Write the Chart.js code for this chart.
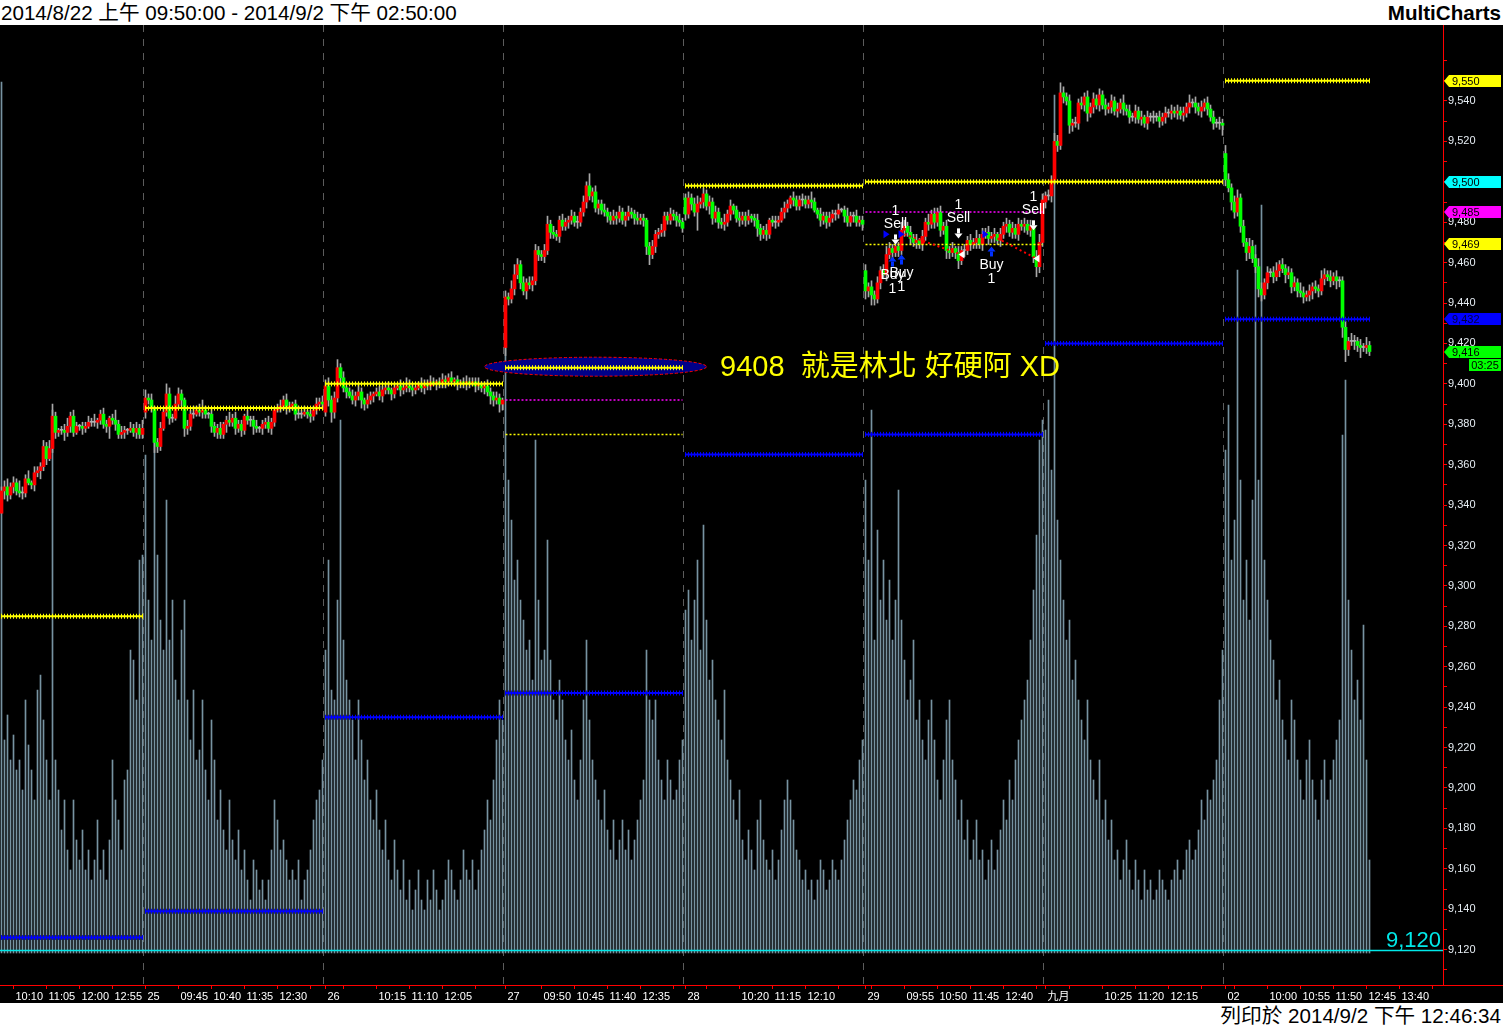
<!DOCTYPE html>
<html>
<head>
<meta charset="utf-8">
<script src="https://cdn.jsdelivr.net/npm/chart.js@4.4.1/dist/chart.umd.min.js"></script>
<style>
  html, body { margin: 0; padding: 0; background: #fff; width: 1503px; height: 1026px; overflow: hidden; }
  .bar { position: absolute; left: 0; width: 1503px; font-family: "Liberation Sans", "Noto Sans CJK TC", sans-serif; font-size: 20.6px; color: #000; }
  #head { top: 0; height: 25px; line-height: 25px; }
  #head .l { position: absolute; left: 1px; }
  #head .r { position: absolute; right: 2px; font-weight: bold; }
  #wrap { position: absolute; left: 0; top: 25px; width: 1503px; height: 978px; background: #000; }
  #foot { top: 1003px; height: 23px; line-height: 25px; }
  #foot .r { position: absolute; right: 2px; }
</style>
</head>
<body>
<div id="head" class="bar"><span class="l">2014/8/22 上午 09:50:00 - 2014/9/2 下午 02:50:00</span><span class="r">MultiCharts</span></div>
<div id="wrap"><canvas id="chart" width="1503" height="978"></canvas></div>
<div id="foot" class="bar"><span class="r">列印於 2014/9/2 下午 12:46:34</span></div>
<script>
// 5-minute bars, 8/22 09:50 .. 9/2 12:50
const slots = 481
const dayStarts = [0, 48, 108, 168, 228, 288, 348, 408]
const dayOpens = [9336, 9386, 9386, 9418, 9492, 9456, 9490, 9514]

const closeD1 = [9347,9349,9345,9349,9351,9347,9346,9346,9353,9351,9350,9356,9357,9359,9369,9363,9368,9384,9376,9377,9377,9376,9379,9384,9376,9379,9379,9378,9379,9381,9381,9381,9382,9385,9380,9379,9383,9382,9380,9375,9376,9377,9377,9378,9376,9378,9375,9378]
const closeD2 = [9393,9392,9388,9371,9369,9378,9386,9395,9383,9383,9390,9395,9392,9378,9379,9385,9385,9387,9386,9387,9385,9385,9379,9376,9378,9375,9380,9382,9381,9383,9378,9380,9377,9384,9382,9382,9379,9378,9378,9380,9381,9378,9381,9387,9388,9389,9392,9388,9389,9390,9385,9385,9385,9386,9385,9384,9387,9390,9391,9390]
const closeD3 = [9399,9392,9386,9393,9408,9403,9398,9396,9394,9392,9394,9396,9392,9390,9392,9394,9395,9396,9394,9397,9398,9397,9395,9398,9399,9397,9398,9399,9398,9397,9398,9400,9398,9400,9399,9401,9400,9401,9400,9402,9401,9403,9401,9402,9400,9401,9400,9401,9400,9401,9399,9400,9398,9399,9396,9394,9392,9393,9390,9392]
const closeD4 = [9443,9442,9447,9454,9459,9450,9446,9450,9449,9451,9466,9464,9463,9466,9479,9475,9474,9473,9481,9478,9480,9481,9483,9480,9480,9485,9490,9498,9493,9495,9487,9489,9486,9485,9483,9481,9483,9482,9485,9481,9483,9485,9484,9482,9481,9482,9481,9468,9464,9468,9474,9475,9476,9483,9481,9484,9483,9481,9480,9477]
const closeD5 = [9484,9492,9489,9485,9489,9490,9494,9488,9490,9482,9485,9480,9479,9480,9484,9488,9486,9482,9481,9483,9481,9483,9482,9481,9477,9474,9476,9474,9481,9480,9480,9481,9485,9487,9489,9492,9491,9488,9491,9491,9489,9491,9490,9486,9484,9481,9483,9480,9482,9484,9484,9486,9486,9483,9480,9483,9483,9480,9481,9479]
const closeD6 = [9446,9448,9444,9442,9450,9456,9454,9464,9467,9465,9468,9466,9476,9478,9475,9472,9470,9471,9469,9473,9480,9479,9484,9480,9485,9476,9478,9466,9465,9467,9465,9461,9466,9466,9471,9469,9470,9472,9469,9474,9475,9472,9473,9474,9471,9474,9478,9479,9475,9477,9474,9479,9478,9479,9476,9478,9463,9458,9470,9491]
const closeD7 = [9493,9493,9501,9520,9518,9544,9542,9540,9528,9529,9529,9539,9538,9542,9534,9537,9541,9538,9543,9538,9536,9537,9540,9535,9536,9539,9536,9535,9532,9532,9535,9531,9532,9529,9532,9532,9532,9532,9530,9532,9534,9534,9535,9534,9535,9533,9534,9537,9539,9539,9537,9535,9537,9539,9536,9532,9529,9529,9529,9528]
const closeD8 = [9501,9497,9490,9485,9492,9478,9470,9465,9468,9462,9458,9447,9444,9450,9455,9455,9453,9456,9459,9457,9454,9455,9448,9450,9446,9445,9443,9444,9446,9448,9447,9446,9452,9454,9453,9451,9453,9451,9451,9428,9417,9421,9421,9421,9419,9418,9418,9419,9416]

// wick lengths above / below the body, in points
const wickUpD1 = [2,3,4,2,3,2,5,3,2,4,1,3,2,2,3,2,4,6,2,1,2,3,4,2,3,2,1,2,2,3,2,4,1,2,3,2,1,2,5,2,3,2,1,3,2,3,2,4]
const wickDnD1 = [0,4,3,2,3,2,2,3,2,1,2,3,2,4,2,3,1,2,3,2,2,4,2,3,2,1,2,3,2,1,2,2,3,2,2,3,6,2,3,2,2,3,2,1,2,3,2,2]
const wickUpD2 = [4,2,3,1,2,3,2,5,3,2,4,3,2,1,3,2,4,2,3,5,2,1,3,2,2,3,1,2,4,2,3,2,2,1,3,2,2,3,1,2,2,3,2,1,2,3,2,3,2,1,2,4,2,3,1,2,2,3,2,3]
const wickDnD2 = [3,2,2,5,3,2,1,2,3,2,1,2,3,4,3,2,2,1,2,3,2,2,3,2,3,2,2,4,2,2,3,2,3,2,2,3,4,2,2,3,2,2,3,2,1,2,2,3,2,2,3,2,2,1,2,3,2,2,1,2]
const wickUpD3 = [3,4,2,3,4,2,3,1,2,3,2,4,2,1,3,2,1,2,3,2,2,3,1,2,1,3,2,4,3,2,1,1,3,2,2,3,2,1,2,3,2,2,3,1,2,1,2,3,2,2,2,3,1,2,3,2,2,3,2,1]
const wickDnD3 = [2,3,5,3,2,3,2,3,1,2,3,2,4,3,2,2,3,1,2,3,2,2,3,2,1,3,2,2,2,3,2,1,2,3,2,2,1,3,2,2,3,2,1,2,3,2,2,3,2,1,3,2,2,3,2,4,3,2,4,3]
const wickUpD4 = [3,2,4,5,3,2,3,2,3,2,3,2,2,3,4,2,3,2,2,3,2,2,3,2,3,2,3,2,6,2,3,2,2,3,2,2,3,2,3,2,2,3,2,2,3,2,2,1,2,3,2,2,3,2,2,3,2,2,3,2]
const wickDnD4 = [4,3,2,3,2,3,2,4,2,3,2,3,2,3,2,3,2,2,3,2,2,3,2,2,3,2,2,3,2,3,2,3,2,2,3,2,2,3,2,2,3,2,2,3,2,2,3,4,5,2,3,2,2,3,2,2,2,3,2,2]
const wickUpD5 = [2,3,2,3,4,2,3,2,3,2,3,2,2,4,2,3,1,2,3,2,2,3,1,2,3,2,2,3,1,2,3,2,2,3,2,1,3,2,2,3,2,2,4,2,1,3,2,2,3,2,2,3,1,2,4,2,2,3,2,2]
const wickDnD5 = [3,2,3,2,9,2,3,2,4,3,2,3,2,3,2,3,2,2,3,2,3,2,2,3,4,3,2,3,2,2,3,2,1,3,2,2,3,2,2,3,2,2,3,1,2,3,2,3,2,2,3,2,1,3,2,2,3,2,2,3]
const wickUpD6 = [3,2,3,2,3,2,3,4,3,2,3,2,4,3,2,3,2,3,1,3,2,4,2,3,2,3,2,3,2,3,1,3,2,3,2,3,2,4,2,3,2,3,2,3,1,3,2,3,2,3,2,3,2,3,2,3,2,3,4,3]
const wickDnD6 = [4,3,5,3,2,3,2,3,2,3,2,3,2,3,2,3,2,3,2,3,2,3,2,3,2,3,2,4,3,2,3,4,2,3,2,3,2,3,2,3,2,3,2,3,2,3,2,3,2,3,2,3,2,3,2,3,3,5,3,2]
const wickUpD7 = [2,3,2,4,3,5,3,2,3,2,3,2,3,2,3,2,3,2,3,2,3,2,3,2,3,2,4,2,3,2,3,2,3,1,3,2,3,2,3,2,3,2,3,2,3,2,3,2,4,2,3,2,3,2,3,2,3,2,3,2]
const wickDnD7 = [3,2,3,2,3,2,3,2,4,3,2,3,2,3,4,2,3,2,3,2,3,2,3,2,3,2,3,2,3,2,3,2,3,2,3,2,3,2,3,2,3,2,3,2,3,2,3,2,3,2,3,2,3,2,3,2,3,2,3,5]
const wickUpD8 = [4,3,2,3,4,2,3,2,4,3,2,4,3,2,3,2,3,4,2,3,2,3,2,3,2,4,3,2,3,2,3,2,4,3,2,3,2,3,2,2,3,2,4,3,2,3,2,4,2]
const wickDnD8 = [3,2,4,3,2,3,2,4,3,2,3,4,3,2,3,2,3,2,3,2,4,2,3,2,3,2,3,2,3,4,2,3,2,3,2,3,2,4,3,5,6,3,2,4,3,5,2,3,2]

// volume, in pixel-height units of the lower pane
const volD1 = [871,213,238,193,218,183,193,163,253,208,183,153,263,278,233,193,153,543,193,163,123,153,103,83,153,113,93,123,83,103,73,93,133,83,103,73,113,193,153,133,103,173,183,303,293,253,393,398]
const volD2 = [498,353,313,543,398,333,303,453,313,353,273,253,323,353,253,213,263,193,203,253,183,153,233,193,133,163,123,103,153,113,93,123,83,103,73,53,93,83,63,73,53,73,103,153,133,103,113,93,73,83,73,93,53,73,83,103,133,153,163,193]
const volD3 = [303,393,263,253,353,533,313,273,253,233,193,253,213,173,193,153,133,163,123,103,133,93,73,113,83,63,93,53,73,43,63,83,53,43,73,53,83,63,43,53,73,93,83,63,53,73,103,83,73,93,63,83,103,123,153,133,173,213,253,233]
const volD4 = [608,473,433,373,393,353,333,303,313,273,513,353,293,303,413,293,253,233,273,253,213,193,223,173,153,193,253,313,233,193,173,153,133,163,123,103,133,93,113,133,103,123,93,113,133,153,173,303,253,233,253,193,173,153,193,173,153,163,193,213]
const volD5 = [343,363,313,353,393,303,428,333,273,293,253,233,213,263,193,173,153,133,163,113,93,123,103,83,133,153,113,93,83,103,73,93,123,153,173,153,133,103,93,73,83,63,73,53,73,93,83,63,73,93,83,73,93,113,133,153,173,163,193,213]
const volD6 = [473,393,543,313,423,353,393,333,373,313,353,463,333,293,253,273,313,233,253,213,193,233,253,213,173,153,193,233,253,193,173,133,153,113,133,93,113,133,93,103,73,93,113,83,103,123,153,133,173,153,193,213,233,253,273,313,363,418,513,533]
const volD7 = [523,553,483,858,433,393,353,313,333,273,293,253,233,213,253,193,173,153,193,133,153,113,133,93,103,73,93,113,83,63,93,73,53,83,63,73,53,63,83,73,63,53,73,83,93,73,83,103,113,93,103,123,153,133,163,153,173,193,253,303]
const volD8 = [503,548,393,433,683,473,353,393,333,453,708,473,748,393,353,313,293,253,273,233,213,193,253,233,193,173,153,193,213,173,153,133,173,193,153,173,193,213,233,518,573,353,303,253,273,233,328,193,93]

// x-axis tick labels [bar index, text]
const xTickLabels = [[4,"10:10"],[15,"11:05"],[26,"12:00"],[37,"12:55"],[48,"25"],[59,"09:45"],[70,"10:40"],[81,"11:35"],[92,"12:30"],[108,"26"],[125,"10:15"],[136,"11:10"],[147,"12:05"],[168,"27"],[180,"09:50"],[191,"10:45"],[202,"11:40"],[213,"12:35"],[228,"28"],[246,"10:20"],[257,"11:15"],[268,"12:10"],[288,"29"],[301,"09:55"],[312,"10:50"],[323,"11:45"],[334,"12:40"],[348,"九月"],[367,"10:25"],[378,"11:20"],[389,"12:15"],[408,"02"],[422,"10:00"],[433,"10:55"],[444,"11:50"],[455,"12:45"],[466,"13:40"]]
const xTickMarks = [4,15,26,37,48,59,70,81,92,103,108,114,125,136,147,158,168,180,191,202,213,224,228,235,246,257,268,279,288,290,301,312,323,334,345,348,356,367,378,389,400,408,411,422,433,444,455,466,477]
const priceTicks = [9110,9120,9130,9140,9150,9160,9170,9180,9190,9200,9210,9220,9230,9240,9250,9260,9270,9280,9290,9300,9310,9320,9330,9340,9350,9360,9370,9380,9390,9400,9410,9420,9430,9440,9450,9460,9470,9480,9490,9500,9510,9520,9530,9540,9550,9560]

// level lines [from bar, to bar, price]
const yellowLevels = [[0,47,9285],[48,107,9388],[108,167,9400],[168,227,9408],[228,287,9498],[288,407,9500],[408,456,9550]]
const blueLevels = [[0,47,9126],[48,107,9139],[108,167,9235],[168,227,9247],[228,287,9365],[288,347,9375],[348,407,9420],[408,456,9432]]
const magentaLevels = [[168,227,9392],[288,347,9485]]
const entryLevels = [[168,227,9375],[288,347,9469]]

const alertLevel = 9120
const markLevel = 9408
const markFrom = 161
const markTo = 235
const noteIdx = 240
const noteText = "9408  就是林北 好硬阿 XD"

const sellIdx = [298, 319, 344]
const sellPrice = [9469, 9472, 9476]
const buyIdx = [297, 300, 330]
const buyPrice = [9463, 9464, 9468]
const entryMarks = [[295, 9474], [300, 9474], [328, 9474]]
const exitMarks = [[320, 9464], [345, 9462]]
const tradeLines = [[301, 9474, 320, 9464], [332, 9472, 345, 9462]]

const tagValues = [9550, 9500, 9485, 9469, 9432, 9416]
const tagColors = ["#ffff00", "#00ffff", "#ff00ff", "#ffff00", "#0000ff", "#00ff00"]
const barTimer = "03:25"

// ---- build series ----
const closes = [].concat(closeD1, closeD2, closeD3, closeD4, closeD5, closeD6, closeD7, closeD8)
const wickUp = [].concat(wickUpD1, wickUpD2, wickUpD3, wickUpD4, wickUpD5, wickUpD6, wickUpD7, wickUpD8)
const wickDn = [].concat(wickDnD1, wickDnD2, wickDnD3, wickDnD4, wickDnD5, wickDnD6, wickDnD7, wickDnD8)
const volume = [].concat(volD1, volD2, volD3, volD4, volD5, volD6, volD7, volD8)
const opens = closes.map((c, i) => {
  const d = dayStarts.indexOf(i)
  return d >= 0 ? dayOpens[d] : closes[i - 1]
})
const bodies = closes.map((c, i) => [opens[i], c])
const wicks = closes.map((c, i) => [Math.min(opens[i], c) - wickDn[i], Math.max(opens[i], c) + wickUp[i]])
const bodyColors = closes.map((c, i) => c > opens[i] ? "#ff0000" : c < opens[i] ? "#00ff00" : "#b0b0b0")

const labelMap = new Map(xTickLabels)
const markSet = new Set(xTickMarks)

function levelDataset(seg, color, dotted) {
  const data = new Array(slots).fill(null)
  for (let i = seg[0]; i <= seg[1]; i++) data[i] = seg[2]
  return {
    type: "line",
    data,
    yAxisID: "y",
    borderColor: color,
    borderWidth: dotted ? 1.5 : 2,
    borderDash: dotted ? [2, 2] : [],
    pointStyle: "line",
    pointRotation: 90,
    pointRadius: dotted ? 0 : 2.5,
    pointBorderWidth: 1,
    pointBorderColor: color,
    pointBackgroundColor: color,
    spanGaps: false,
    order: 1,
    marked: !dotted && seg[2] === markLevel,
  }
}

const overlay = {
  id: "overlay",
  beforeDatasetsDraw(chart) {
    const { ctx, chartArea: a, scales: { x } } = chart
    ctx.save()
    ctx.strokeStyle = "#5c5c5c"
    ctx.lineWidth = 1
    ctx.setLineDash([7, 7])
    dayStarts.slice(1).forEach((i) => {
      const px = Math.round(x.getPixelForValue(i) - 2.5) + 0.5
      ctx.beginPath()
      ctx.moveTo(px, a.top)
      ctx.lineTo(px, a.bottom)
      ctx.stroke()
    })
    ctx.restore()
  },
  beforeDatasetDraw(chart, args) {
    if (!chart.data.datasets[args.index].marked) return
    const { ctx, scales: { x, y } } = chart
    const x0 = x.getPixelForValue(markFrom)
    const x1 = x.getPixelForValue(markTo)
    const cy = y.getPixelForValue(markLevel) - 1
    ctx.save()
    ctx.beginPath()
    ctx.ellipse((x0 + x1) / 2, cy, (x1 - x0) / 2, 9.5, 0, 0, Math.PI * 2)
    ctx.fillStyle = "#000088"
    ctx.fill()
    ctx.setLineDash([3, 2])
    ctx.strokeStyle = "#ff0000"
    ctx.lineWidth = 1
    ctx.stroke()
    ctx.restore()
  },
  afterDatasetsDraw(chart) {
    const { ctx, chartArea: a, scales: { x, y } } = chart
    const X = (i) => x.getPixelForValue(i)
    const Y = (p) => y.getPixelForValue(p)
    ctx.save()

    // alert line
    const ay = Math.round(Y(alertLevel)) + 0.5
    ctx.strokeStyle = "#00e8e8"
    ctx.lineWidth = 1.5
    ctx.beginPath()
    ctx.moveTo(a.left, ay)
    ctx.lineTo(a.right, ay)
    ctx.stroke()
    ctx.fillStyle = "#00e8e8"
    ctx.font = '22px "Liberation Sans"'
    ctx.textAlign = "right"
    ctx.textBaseline = "alphabetic"
    ctx.fillText(alertLevel.toLocaleString("en-US"), a.right - 2, ay - 4)

    // note
    ctx.fillStyle = "#ffff00"
    ctx.font = '29px "Liberation Sans", "Noto Sans CJK TC"'
    ctx.textAlign = "left"
    ctx.fillText(noteText, X(noteIdx) - 1.5, Y(markLevel) + 8)

    // trade lines
    ctx.strokeStyle = "#ff0000"
    ctx.lineWidth = 2
    ctx.setLineDash([2, 3])
    tradeLines.forEach((t) => {
      ctx.beginPath()
      ctx.moveTo(X(t[0]), Y(t[1]))
      ctx.lineTo(X(t[2]), Y(t[3]))
      ctx.stroke()
    })
    ctx.setLineDash([])

    // entry / exit triangles
    ctx.fillStyle = "#0000ff"
    entryMarks.forEach((m) => {
      const px = X(m[0]), py = Y(m[1])
      ctx.beginPath()
      ctx.moveTo(px - 3, py - 4)
      ctx.lineTo(px + 3, py)
      ctx.lineTo(px - 3, py + 4)
      ctx.fill()
    })
    ctx.fillStyle = "#ffffff"
    exitMarks.forEach((m) => {
      const px = X(m[0]), py = Y(m[1])
      ctx.beginPath()
      ctx.moveTo(px + 3, py - 4)
      ctx.lineTo(px - 3, py)
      ctx.lineTo(px + 3, py + 4)
      ctx.fill()
    })

    // sell / buy arrows and labels
    ctx.font = '14px "Liberation Sans"'
    ctx.textAlign = "center"
    ctx.textBaseline = "middle"
    sellIdx.forEach((i, k) => {
      const px = X(i), tip = Y(sellPrice[k])
      ctx.fillStyle = "#ffffff"
      ctx.fillRect(px - 1.5, tip - 10, 3, 5)
      ctx.beginPath()
      ctx.moveTo(px - 4, tip - 5)
      ctx.lineTo(px + 4, tip - 5)
      ctx.lineTo(px, tip)
      ctx.fill()
      ctx.fillText("Sell", px, tip - 20)
      ctx.fillText("1", px, tip - 33)
    })
    buyIdx.forEach((i, k) => {
      const px = X(i), tip = Y(buyPrice[k])
      ctx.fillStyle = "#0030ff"
      ctx.fillRect(px - 1.5, tip + 5, 3, 5)
      ctx.beginPath()
      ctx.moveTo(px - 4, tip + 5)
      ctx.lineTo(px + 4, tip + 5)
      ctx.lineTo(px, tip)
      ctx.fill()
      ctx.fillStyle = "#ffffff"
      ctx.fillText("Buy", px, tip + 19)
      ctx.fillText("1", px, tip + 33)
    })
    ctx.restore()
  },
  afterDraw(chart) {
    const { ctx, chartArea: a, scales: { y } } = chart
    ctx.save()
    // axis line continues under the price scale
    ctx.strokeStyle = "#ff0000"
    ctx.lineWidth = 1
    ctx.beginPath()
    ctx.moveTo(a.right, a.bottom + 0.5)
    ctx.lineTo(chart.width, a.bottom + 0.5)
    ctx.stroke()

    ctx.font = '11px "Liberation Sans"'
    ctx.textBaseline = "middle"
    ctx.textAlign = "left"
    tagValues.forEach((v, k) => {
      const cy = Math.round(y.getPixelForValue(v))
      const x0 = a.right + 1
      ctx.fillStyle = tagColors[k]
      ctx.beginPath()
      ctx.moveTo(x0, cy)
      ctx.lineTo(x0 + 5, cy - 6)
      ctx.lineTo(chart.width - 2, cy - 6)
      ctx.lineTo(chart.width - 2, cy + 6)
      ctx.lineTo(x0 + 5, cy + 6)
      ctx.closePath()
      ctx.fill()
      ctx.fillStyle = k === 4 ? "#000040" : "#000000"
      ctx.fillText(v.toLocaleString("en-US"), x0 + 8, cy + 0.5)
      if (k === tagValues.length - 1) {
        ctx.fillStyle = "#00ff00"
        ctx.fillRect(chart.width - 34, cy + 7, 32, 12)
        ctx.fillStyle = "#000000"
        ctx.textAlign = "center"
        ctx.fillText(barTimer, chart.width - 18, cy + 13.5)
      }
    })
    ctx.restore()
  },
}

Chart.defaults.font.family = '"Liberation Sans", "Noto Sans CJK TC", sans-serif'

const datasets = [
  {
    type: "bar",
    data: volume,
    yAxisID: "yVol",
    backgroundColor: "#7793a1",
    barThickness: 1,
    grouped: false,
    order: 10,
  },
  {
    type: "bar",
    data: wicks,
    yAxisID: "y",
    backgroundColor: "#a8a8a8",
    barThickness: 1,
    grouped: false,
    order: 6,
  },
  {
    type: "bar",
    data: bodies,
    yAxisID: "y",
    backgroundColor: bodyColors,
    barThickness: 3,
    minBarLength: 1,
    grouped: false,
    order: 5,
  },
]
yellowLevels.forEach((s) => datasets.push(levelDataset(s, "#ffff00", false)))
blueLevels.forEach((s) => datasets.push(levelDataset(s, "#0000ff", false)))
magentaLevels.forEach((s) => datasets.push(levelDataset(s, "#ff00ff", true)))
entryLevels.forEach((s) => datasets.push(levelDataset(s, "#ffff00", true)))

new Chart(document.getElementById("chart"), {
  type: "bar",
  data: {
    labels: Array.from({ length: slots }, (_, i) => i),
    datasets,
  },
  plugins: [overlay],
  options: {
    responsive: false,
    animation: false,
    events: [],
    layout: { padding: 0, autoPadding: false },
    plugins: { legend: { display: false }, tooltip: { enabled: false } },
    scales: {
      x: {
        type: "category",
        offset: true,
        grid: {
          offset: false,
          drawOnChartArea: false,
          tickLength: 4,
          tickColor: (ctx) => (markSet.has(ctx.index) ? "#ff0000" : "rgba(0,0,0,0)"),
        },
        border: { color: "#ff0000", width: 1 },
        ticks: {
          autoSkip: false,
          maxRotation: 0,
          minRotation: 0,
          align: "start",
          labelOffset: 2,
          padding: 1,
          color: "#ffffff",
          font: { size: 11 },
          callback: (v, i) => labelMap.get(i) || "",
        },
        afterFit: (s) => {
          s.height = 18
          s.paddingLeft = 0
          s.paddingRight = 0
        },
      },
      y: {
        position: "right",
        min: 9102.5,
        max: 9577.6,
        afterBuildTicks: (s) => { s.ticks = priceTicks.map((v) => ({ value: v })) },
        grid: { drawOnChartArea: false, tickLength: 4, tickColor: "#ff0000" },
        border: { color: "#ff0000", width: 1 },
        ticks: {
          padding: 1,
          color: "#e6edf3",
          font: { size: 11 },
          callback: (v) => (v % 20 === 0 && v >= 9120 && v <= 9540 ? v.toLocaleString("en-US") : ""),
        },
        afterFit: (s) => {
          s.width = 60
          s.paddingTop = 0
          s.paddingBottom = 0
        },
      },
      yVol: {
        display: false,
        min: -32,
        max: 928,
      },
    },
  },
})
</script>
</body>
</html>
